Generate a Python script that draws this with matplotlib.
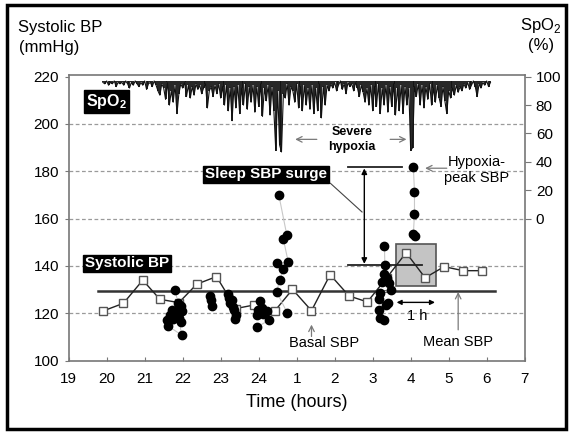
import numpy as np
import matplotlib
matplotlib.use('Agg')
import matplotlib.pyplot as plt
from matplotlib.patches import Rectangle

plt.rcParams['font.family'] = ['Liberation Sans', 'DejaVu Sans']
plt.rcParams['mathtext.fontset'] = 'custom'
plt.rcParams['mathtext.rm'] = 'Liberation Sans'
plt.rcParams['mathtext.bf'] = 'Liberation Sans:bold'

# x axis: clock hours, 19:00 -> 7:00 next day (25 = 1 am)
hour_ticks = list(range(19, 32))
hour_labels = ['19', '20', '21', '22', '23', '24', '1', '2', '3', '4', '5', '6', '7']

# half-hourly SBP (squares)
sq_time = [19.91, 20.44, 20.95, 21.40, 21.90, 22.37, 22.89, 23.40, 23.88, 24.43, 24.89,
           25.39, 25.88, 26.38, 26.86, 27.37, 27.88, 28.38, 28.88, 29.38, 29.87]
sq_sbp = [121.0, 124.2, 134.0, 125.9, 124.5, 132.3, 135.5, 122.0, 123.5, 121.1, 130.1,
          121.1, 136.3, 127.3, 124.8, 135.0, 145.6, 135.0, 139.7, 138.0, 138.0]

mean_sbp = 129.3
mean_from, mean_to = 19.78, 30.23

# hypoxia-triggered SBP readings (black dots), one list per episode
ep1_time = [21.80, 21.88, 21.95, 21.97, 21.84, 21.72, 21.67, 21.75, 21.58, 21.95, 21.62, 21.97, 21.90]
ep1_sbp = [129.8, 124.2, 123.0, 121.1, 120.7, 121.5, 119.3, 117.5, 117.2, 116.5, 114.6, 110.8, 118.0]
ep2_time = [22.73, 22.74, 22.76]
ep2_sbp = [127.5, 125.5, 123.0]
ep3_time = [23.18, 23.22, 23.30, 23.25, 23.33, 23.36, 23.40, 23.38]
ep3_sbp = [128.3, 126.3, 125.8, 124.5, 122.5, 121.3, 119.4, 117.5]
ep4_time = [24.03, 24.10, 23.99, 24.06, 24.23, 24.12, 23.95, 24.28, 23.95]
ep4_sbp = [125.2, 122.1, 121.4, 120.7, 121.1, 119.7, 119.3, 117.2, 114.1]
ep5_time = [24.53, 24.74, 24.65, 24.78, 24.47, 24.65, 24.56, 24.47, 24.75]
ep5_sbp = [170.0, 153.1, 151.3, 141.5, 141.1, 138.8, 134.2, 129.1, 120.3]
ep6_time = [27.31, 27.32, 27.30, 27.37, 27.24, 27.44, 27.47, 27.19, 27.17, 27.41, 27.35, 27.16, 27.19, 27.30]
ep6_sbp = [148.4, 140.4, 136.6, 134.8, 133.4, 132.7, 129.8, 128.5, 125.9, 124.5, 123.5, 121.4, 117.9, 117.2]
ep7_time = [28.07, 28.10, 28.10, 28.07, 28.12]
ep7_sbp = [182.0, 171.4, 162.0, 153.3, 152.6]

# SpO2 trace (%), read every 0.05 h from 19.90
spo2_start, spo2_step = 19.90, 0.05
spo2_top = 97
spo2 = [96, 95, 97, 94, 96, 95, 97, 93, 96, 95,
        96, 94, 97, 95, 92, 96, 94, 97, 95, 93,
        96, 94, 97, 91, 95, 96, 93, 97, 94, 90,
        87, 95, 92, 84, 96, 80, 90, 82, 94, 74,
        88, 95, 92, 96, 86, 94, 85, 93, 87, 95,
        91, 94, 88, 92, 95, 78, 90, 93, 86, 94,
        88, 95, 85, 93, 80, 94, 76, 92, 69, 93,
        78, 94, 74, 92, 80, 95, 77, 93, 82, 94,
        75, 93, 79, 95, 72, 92, 83, 94, 73, 93,
        76, 48, 90, 52, 47, 88, 85, 95, 80, 93,
        90, 82, 95, 78, 93, 76, 94, 80, 92, 77,
        94, 74, 92, 76, 95, 71, 93, 80, 94, 90,
        95, 92, 96, 90, 94, 97, 91, 95, 88, 96,
        93, 95, 90, 96, 92, 86, 94, 89, 82, 92,
        80, 94, 76, 93, 79, 95, 74, 92, 80, 94,
        75, 93, 79, 95, 73, 92, 76, 94, 74, 93,
        80, 92, 48, 50, 93, 86, 95, 80, 94, 78,
        93, 84, 95, 80, 92, 82, 94, 85, 79, 93,
        83, 74, 90, 85, 92, 87, 94, 89, 93, 90,
        95, 92, 96, 91, 94, 97, 93, 86, 95, 92,
        96, 94, 97, 93, 96]
spo2_time = spo2_start + spo2_step * np.arange(len(spo2))

# annotation levels
basal_level = 140.4
peak_level = 181.7
box_t = (27.62, 28.67)
box_sbp = (131.7, 149.2)

fig = plt.figure(figsize=(5.69, 4.32), dpi=100)
ax = fig.add_axes([0.1207, 0.1653, 0.8014, 0.6611])
ax.set_xlim(19, 31)
ax.set_ylim(100, 220.7)

for g in [120, 140, 160, 180, 200]:
    ax.axhline(g, color='#9a9a9a', lw=0.9, ls=(0, (3, 2)), zorder=0)

# gray one-hour box
ax.add_patch(Rectangle((box_t[0], box_sbp[0]), box_t[1] - box_t[0], box_sbp[1] - box_sbp[0],
                       fc='#c4c4c4', ec='#555555', lw=1.2, zorder=2))

ax.plot([mean_from, mean_to], [mean_sbp, mean_sbp], color='#333333', lw=1.8, zorder=2.5)
ax.plot(sq_time, sq_sbp, color='#222222', lw=1.0, marker='s', ms=6,
        mfc='white', mec='#555555', mew=1.0, zorder=3)

for t, v in [(ep1_time, ep1_sbp), (ep2_time, ep2_sbp), (ep3_time, ep3_sbp), (ep4_time, ep4_sbp),
             (ep5_time, ep5_sbp), (ep6_time, ep6_sbp), (ep7_time, ep7_sbp)]:
    ax.plot(t, v, color='#c8c8c8', lw=0.8, zorder=3.5)
    ax.plot(t, v, 'o', color='black', ms=6, zorder=4)

# surge reference lines and arrow
ax.plot([26.36, 28.29], [basal_level, basal_level], color='#222222', lw=1.3, zorder=3)
ax.plot([26.36, 27.76], [peak_level, peak_level], color='#222222', lw=1.3, zorder=3)
ax.annotate('', xy=(26.78, peak_level - 0.5), xytext=(26.78, basal_level + 0.5),
            arrowprops=dict(arrowstyle='<|-|>', color='black', lw=1.0, mutation_scale=8,
                            shrinkA=0, shrinkB=0), zorder=3)
ax.plot([25.89, 26.72], [174.9, 162.8], color='#444444', lw=0.8, zorder=3)

ax.annotate('', xy=(27.63, 124.6), xytext=(28.64, 124.6),
            arrowprops=dict(arrowstyle='<|-|>', color='black', lw=1.0, mutation_scale=7,
                            shrinkA=0, shrinkB=0))
ax.text(28.16, 118.9, '1 h', ha='center', va='center', fontsize=10.5)

gray_arrow = dict(arrowstyle='->', color='#7a7a7a', lw=0.9, shrinkA=0, shrinkB=0)
ax.annotate('', xy=(24.96, 193.5), xytext=(25.53, 193.5), arrowprops=gray_arrow)
ax.annotate('', xy=(27.89, 193.5), xytext=(27.46, 193.5), arrowprops=gray_arrow)
ax.text(26.45, 193.3, 'Severe\nhypoxia', ha='center', va='center', fontsize=9,
        fontweight='bold', linespacing=1.3)

ax.annotate('', xy=(28.38, 181.3), xytext=(28.95, 181.3), arrowprops=gray_arrow)
ax.text(29.74, 180.6, 'Hypoxia-\npeak SBP', ha='center', va='center', fontsize=10.5,
        linespacing=1.25)

ax.annotate('', xy=(25.39, 115.2), xytext=(25.39, 110.2), arrowprops=gray_arrow)
ax.text(25.72, 107.3, 'Basal SBP', ha='center', va='center', fontsize=10.5)
ax.annotate('', xy=(29.25, mean_sbp - 0.3), xytext=(29.25, 113.0), arrowprops=gray_arrow)
ax.text(29.25, 107.8, 'Mean SBP', ha='center', va='center', fontsize=10.5)

black_box = dict(boxstyle='square,pad=0.12', fc='black', ec='black')
ax.text(24.19, 178.7, 'Sleep SBP surge', ha='center', va='center', fontsize=11,
        fontweight='bold', color='white', bbox=black_box, zorder=5)
ax.text(20.53, 141.1, 'Systolic BP', ha='center', va='center', fontsize=11,
        fontweight='bold', color='white', bbox=black_box, zorder=5)
ax.text(19.99, 209.4, r'SpO$_\mathbf{2}$', ha='center', va='center', fontsize=11.5,
        fontweight='bold', color='white', bbox=black_box, zorder=5)

ax.set_xticks(hour_ticks)
ax.set_xticklabels(hour_labels)
ax.set_yticks([100, 120, 140, 160, 180, 200, 220])
ax.tick_params(axis='x', direction='in', length=3, pad=8, labelsize=11, color='#777777')
ax.tick_params(axis='y', direction='out', length=3, pad=4, labelsize=11, color='#777777')
ax.set_xlabel('Time (hours)', fontsize=13, labelpad=6)
for s in ax.spines.values():
    s.set_color('#777777')
    s.set_linewidth(1.2)

# SpO2 on the right axis (0 % aligned with 160 mmHg)
ax2 = ax.twinx()
ax2.set_ylim(-100, 101.2)
ax2.vlines(spo2_time, spo2, spo2_top, color='#111111', lw=1.3)
ax2.plot(spo2_time, spo2, color='#111111', lw=0.8)
ax2.set_yticks([0, 20, 40, 60, 80, 100])
ax2.tick_params(axis='y', direction='out', length=4, pad=4, labelsize=11, color='#777777')
for s in ax2.spines.values():
    s.set_visible(False)

fig.text(0.032, 0.937, 'Systolic BP', fontsize=12, ha='left', va='center')
fig.text(0.034, 0.891, '(mmHg)', fontsize=12, ha='left', va='center')
fig.text(0.951, 0.940, r'SpO$_2$', fontsize=12, ha='center', va='center')
fig.text(0.951, 0.895, '(%)', fontsize=12, ha='center', va='center')

fig.patches.append(Rectangle((0.0123, 0.007), 0.9824, 0.981, transform=fig.transFigure,
                             fill=False, ec='black', lw=2.5))

fig.savefig('out.png', dpi=100)
